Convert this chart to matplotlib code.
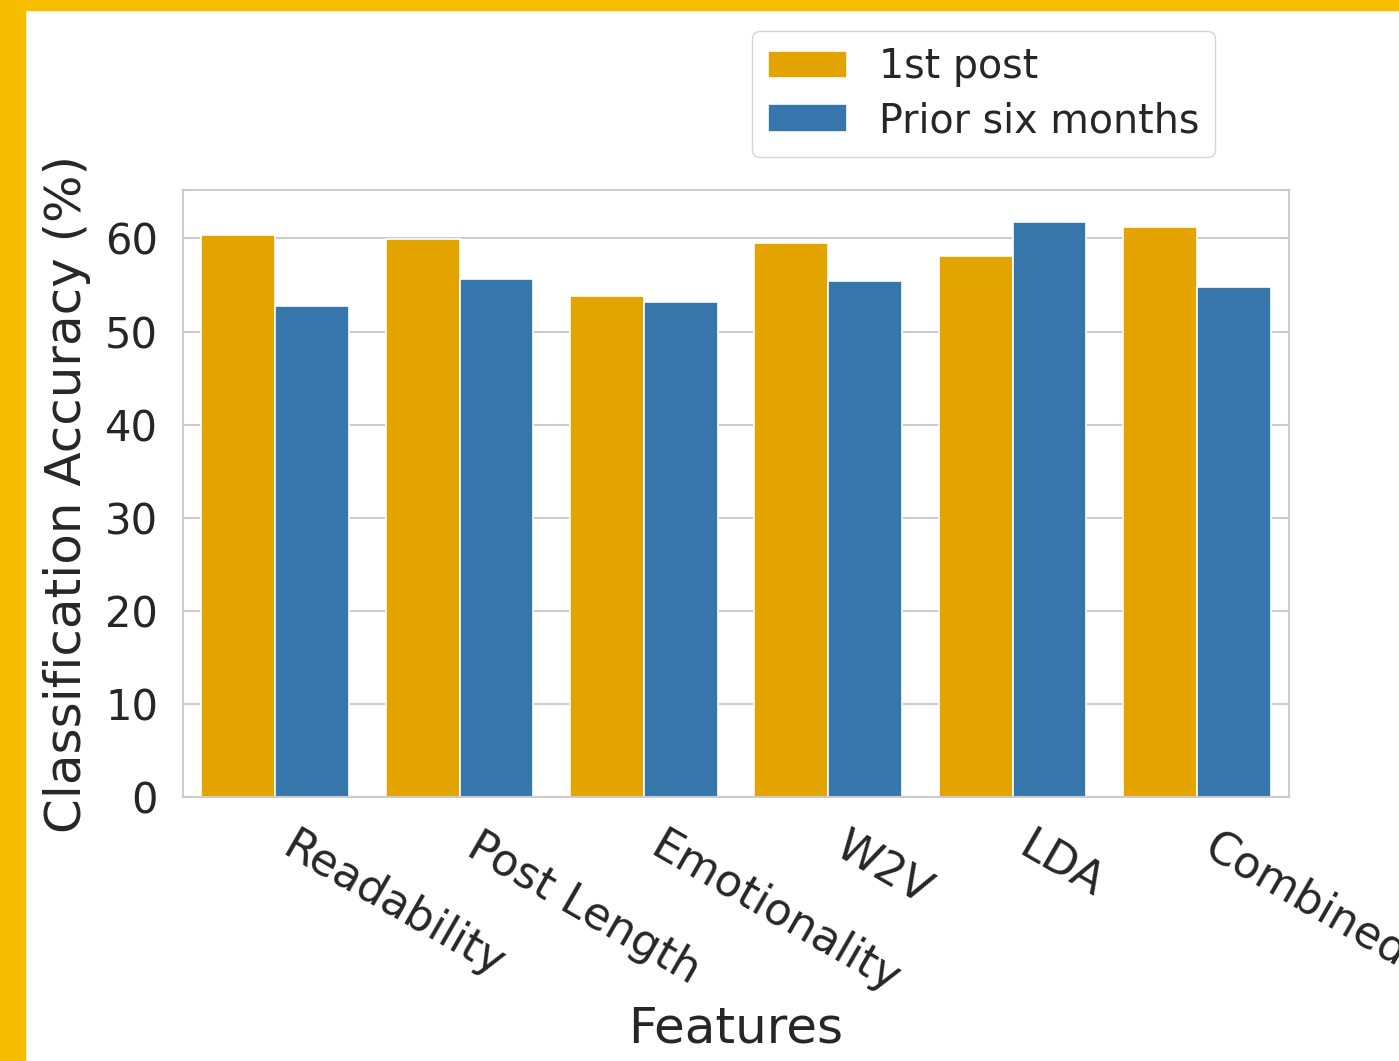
import numpy as np
import matplotlib
matplotlib.use("Agg")
import matplotlib.pyplot as plt
import seaborn as sns
from matplotlib.patches import Rectangle

features = ['Readability', 'Post Length', 'Emotionality', 'W2V', 'LDA', 'Combined']
first_post = [60.4, 59.9, 53.8, 59.5, 58.1, 61.2]
six_months = [52.7, 55.6, 53.2, 55.4, 61.8, 54.8]
series_names = ['1st post', 'Prior six months']

sns.set_style('whitegrid')
plt.rcParams['font.family'] = ['DejaVu Sans']

fig = plt.figure(figsize=(13.99, 10.61), dpi=100)
ax = fig.add_axes([0.1308, 0.2488, 0.7906, 0.5721])

x = np.arange(len(features))
w = 0.4
ax.bar(x - w / 2, first_post, w, color='#E3A400', edgecolor='white', linewidth=1.2, label=series_names[0])
ax.bar(x + w / 2, six_months, w, color='#3776AB', edgecolor='white', linewidth=1.2, label=series_names[1])

ax.set_xlim(-0.5, len(features) - 0.5)
ax.set_ylim(0, 65.2)
ax.set_yticks([0, 10, 20, 30, 40, 50, 60])
ax.set_xticks(x)
ax.set_xticklabels(features, rotation=-30, ha='left')
ax.grid(axis='x', visible=False)
ax.grid(axis='y', color='#cccccc', linewidth=1.5)
for s in ax.spines.values():
    s.set_color('#cccccc')
    s.set_linewidth(1.5)
ax.tick_params(axis='both', length=0, colors='#262626')
ax.tick_params(axis='y', pad=18, labelsize=30)
ax.tick_params(axis='x', pad=20, labelsize=32)

ax.set_ylabel('Classification Accuracy (%)', fontsize=36, color='#262626', labelpad=10)
ax.set_xlabel('Features', fontsize=36, color='#262626', labelpad=2)

ax.legend(loc='upper right', bbox_to_anchor=(0.8825, 0.989), bbox_transform=fig.transFigure,
          fontsize=28.5, frameon=True, edgecolor='#cccccc', handlelength=2.0,
          labelspacing=0.35)

# yellow frame at the left and top edges
fig.patches.append(Rectangle((0, 0), 25 / 1399, 1, transform=fig.transFigure,
                             color='#F7BE00', zorder=10))
fig.patches.append(Rectangle((0, 1 - 10 / 1061), 1, 10 / 1061, transform=fig.transFigure,
                             color='#F7BE00', zorder=10))

fig.savefig('out.png', dpi=100)
